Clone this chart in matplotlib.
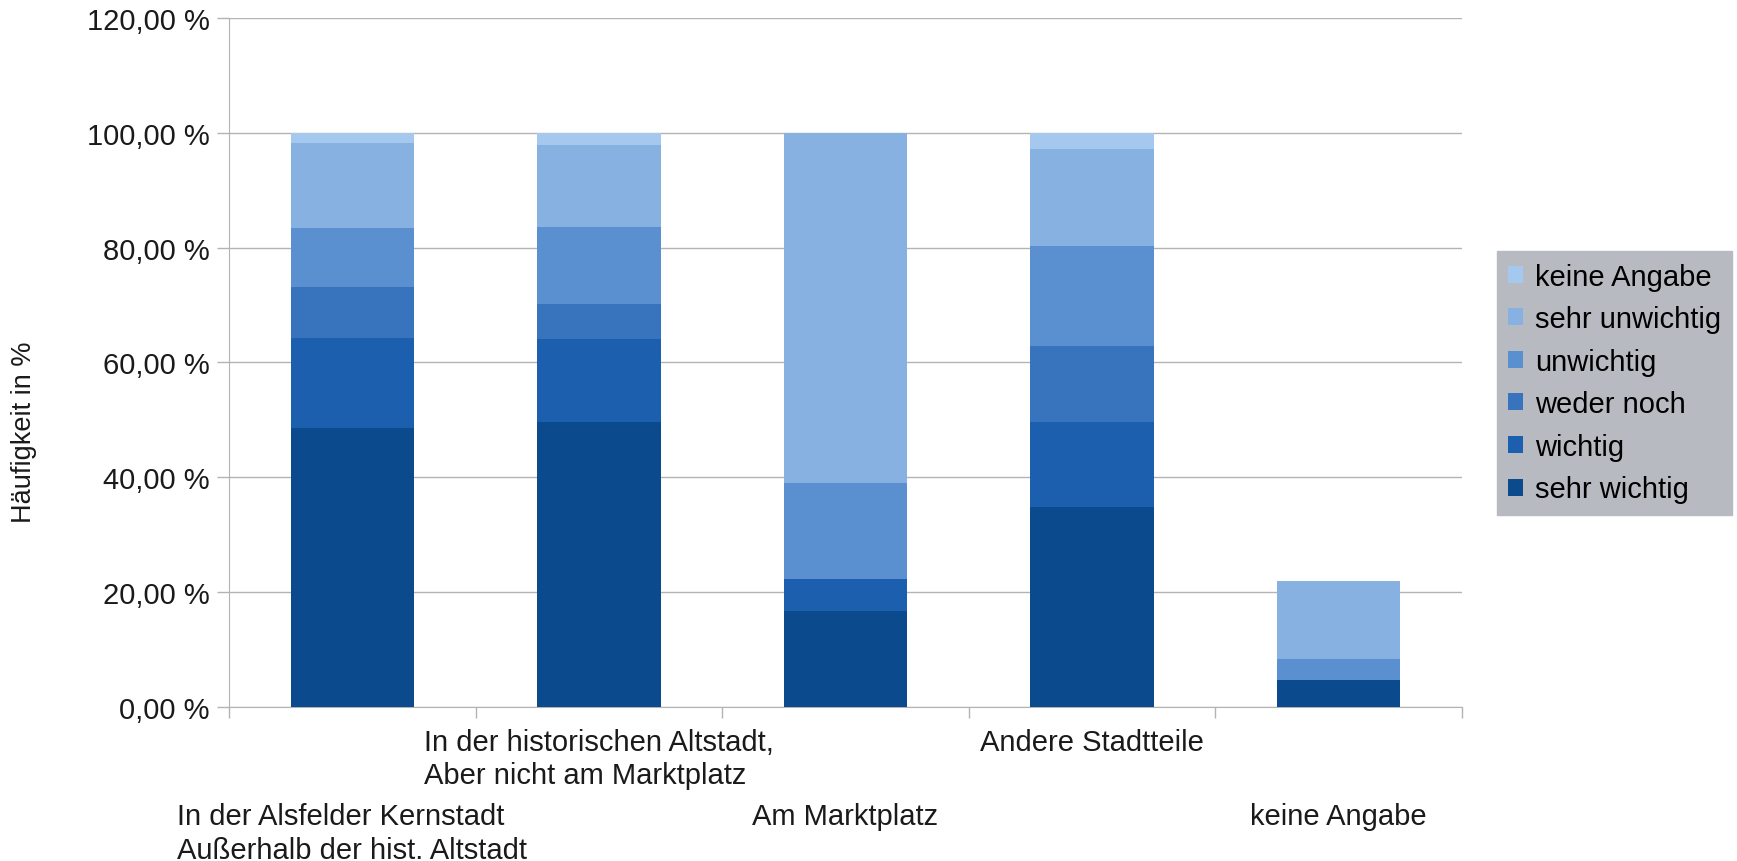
import matplotlib
matplotlib.use("Agg")
import matplotlib.pyplot as plt
from matplotlib.ticker import FuncFormatter
import matplotlib.transforms as mtransforms

plt.rcParams['font.family'] = ['Liberation Sans', 'DejaVu Sans']

categories = ["In der Alsfelder Kernstadt\nAußerhalb der hist. Altstadt",
              "In der historischen Altstadt,\nAber nicht am Marktplatz",
              "Am Marktplatz",
              "Andere Stadtteile",
              "keine Angabe"]
levels = ["sehr wichtig", "wichtig", "weder noch", "unwichtig", "sehr unwichtig", "keine Angabe"]

# Anteile in Prozent, je Standort
sehr_wichtig = [48.5, 49.7, 16.7, 34.8, 4.7]
wichtig = [15.7, 14.3, 5.5, 14.9, 0.0]
weder_noch = [8.9, 6.2, 0.0, 13.2, 0.0]
unwichtig = [10.4, 13.4, 16.8, 17.3, 3.7]
sehr_unwichtig = [14.8, 14.3, 61.0, 17.0, 13.6]
keine_angabe = [1.7, 2.1, 0.0, 2.8, 0.0]

series = [sehr_wichtig, wichtig, weder_noch, unwichtig, sehr_unwichtig, keine_angabe]
colors = ['#0b4a8c', '#1c5fae', '#3874bd', '#5a8fd0', '#86b1e1', '#a5c8ef']

fig = plt.figure(figsize=(17.37, 8.62), dpi=100)
ax = fig.add_axes([0.1318, 0.1787, 0.7099, 0.7993])

x = list(range(len(categories)))
bottom = [0.0] * len(categories)
handles = []
for vals, col, name in zip(series, colors, levels):
    h = ax.bar(x, vals, width=0.5, bottom=bottom, color=col, label=name, zorder=3)
    handles.append(h)
    bottom = [b + v for b, v in zip(bottom, vals)]

ax.set_xlim(-0.5, 4.5)
ax.set_ylim(0, 120)
ax.set_yticks(range(0, 121, 20))
ax.yaxis.set_major_formatter(FuncFormatter(lambda v, p: ("%.2f %%" % v).replace('.', ',')))
ax.tick_params(axis='y', labelsize=21, length=9, width=1, color='#b3b3b3', pad=5, labelcolor='#1a1a1a')
ax.grid(axis='y', color='#b3b3b3', linewidth=1, zorder=0)

# tick marks between categories, labels placed by hand in two rows
ax.set_xticks([i - 0.5 for i in range(len(categories) + 1)])
ax.set_xticklabels([])
ax.tick_params(axis='x', length=8, width=1, color='#b3b3b3')
trans = mtransforms.blended_transform_factory(ax.transData, ax.transAxes)
for i, lab in enumerate(categories):
    yy = -0.030 if i % 2 == 1 else -0.138
    ax.text(i, yy, lab, transform=trans, ha='center', va='top', fontsize=21,
            multialignment='left', color='#1a1a1a', linespacing=1.25)

for s in ['top', 'right']:
    ax.spines[s].set_visible(False)
ax.spines['left'].set_color('#b3b3b3')
ax.spines['bottom'].set_color('#b3b3b3')

fig.text(0.0138, 0.499, "Häufigkeit in %", rotation=90, ha='center', va='center',
         fontsize=19.5, color='#1a1a1a')

leg = fig.legend(handles[::-1], levels[::-1], loc='center left',
                 bbox_to_anchor=(0.8618, 0.5545), fontsize=21, frameon=True,
                 fancybox=False, handlelength=0.52, handleheight=0.52,
                 handletextpad=0.4, labelspacing=0.5, borderpad=0.38,
                 borderaxespad=0)
leg.get_frame().set_facecolor('#b7bbc1')
leg.get_frame().set_edgecolor('#b7bbc1')
leg.get_frame().set_alpha(1)

fig.savefig("out.png", dpi=100)
